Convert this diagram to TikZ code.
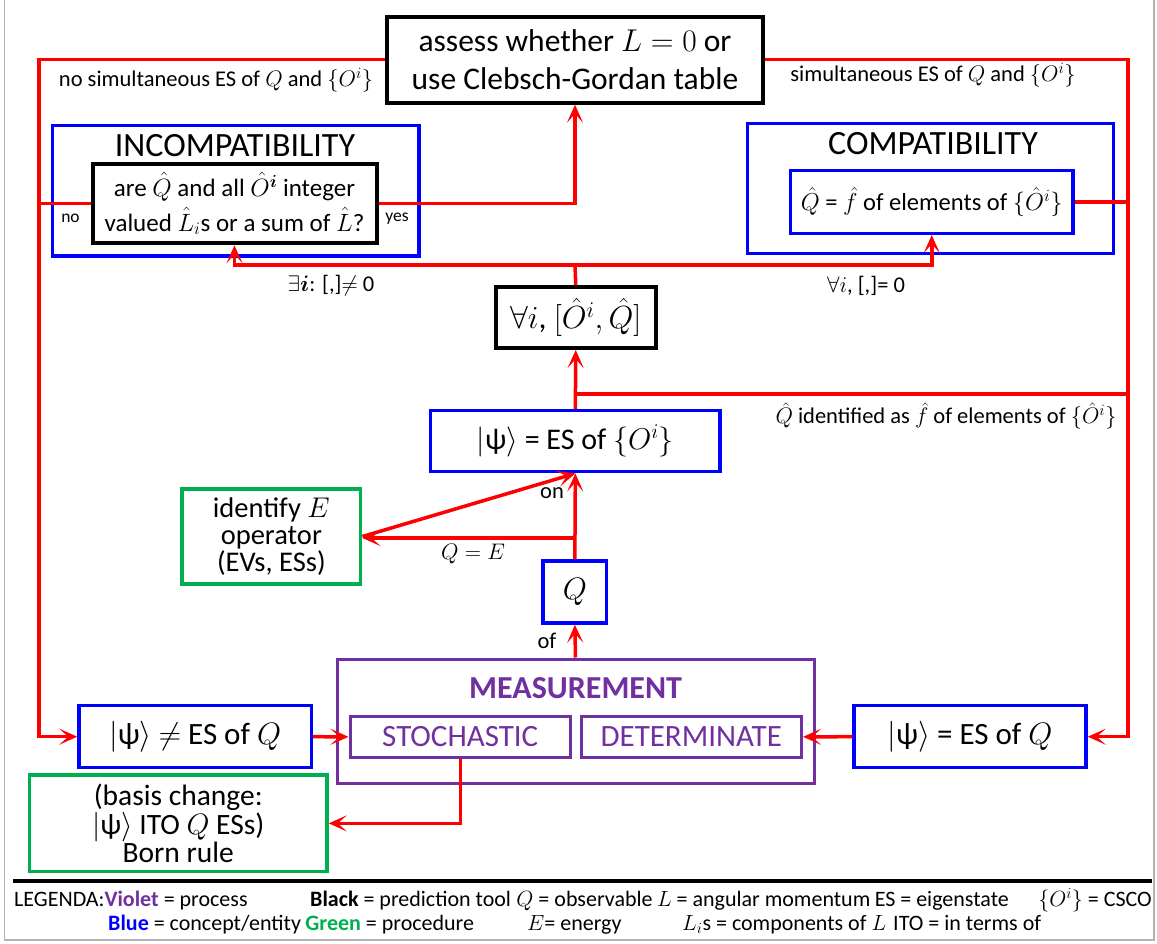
\RequirePackage{fix-cm}
\documentclass[tikz,border=0pt]{standalone}
\usepackage{amsmath}
\usepackage{fontspec}
\setmainfont{Carlito}
\usetikzlibrary{arrows.meta}
\definecolor{rd}{RGB}{255,0,0}
\definecolor{bl}{RGB}{0,0,255}
\definecolor{gr}{RGB}{0,176,80}
\definecolor{vi}{RGB}{112,48,160}
\newcommand{\fsz}[2]{\fontsize{#1}{#2}\selectfont}
\begin{document}
\begin{tikzpicture}[x=1pt,y=-1pt,
  box/.style={draw,line width=3.5pt,inner sep=0pt,align=center,text=black},
  blackbox/.style={box,draw=black,line width=4pt},
  bluebox/.style={box,draw=bl},
  greenbox/.style={box,draw=gr},
  violetbox/.style={box,draw=vi,line width=3pt,text=vi},
  conn/.style={draw=rd,line width=3.5pt},
  arr/.style={conn,-{Stealth[length=18pt,width=16pt,inset=9pt]}},
  lbl/.style={inner sep=0pt,font=\fsz{22.5}{26}},
  leg/.style={inner sep=0pt,anchor=base west,font=\fsz{22}{25}}]
\useasboundingbox (0,0) rectangle (1157,944);
\draw[gray!60,line width=1.5pt] (4.5,-5) -- (4.5,940) -- (1154,940) -- (1154,-5);

% nodes
\node[blackbox,minimum width=376pt,minimum height=86pt,font=\fsz{31.5}{38}] (top) at (575,59.7) {assess whether $L=0$ or\\use Clebsch-Gordan table};

\node[bluebox,minimum width=366.5pt,minimum height=130.7pt] (inc) at (235.75,190.65) {};
\node[inner sep=0pt,font=\fsz{34}{38}] (incT) at (235,145.7) {INCOMPATIBILITY};
\node[blackbox,minimum width=284pt,minimum height=79.3pt,font=\fsz{25}{35}] (incIn) at (234.5,203.65) {are $\hat{Q}$ and all $\hat{O}^{\boldsymbol{i}}$ integer\\valued $\hat{L}_i$s or a sum of $\hat{L}$?};

\node[bluebox,minimum width=366pt,minimum height=130pt] (com) at (930.6,188.3) {};
\node[inner sep=0pt,font=\fsz{34}{38}] (comT) at (933,143.3) {COMPATIBILITY};
\node[bluebox,minimum width=282.5pt,minimum height=62.6pt,font=\fsz{24.5}{30}] (comIn) at (931.75,202) {$\hat{Q}$ = $\hat{f}$ of elements of $\{\hat{O}^i\}$};

\node[blackbox,minimum width=160.5pt,minimum height=61pt,font=\fsz{32}{36}] (fa) at (575.75,317.5) {$\forall i$, $[\hat{O}^i,\hat{Q}]$};

\node[bluebox,minimum width=289.3pt,minimum height=61pt,font=\fsz{30}{34}] (psiO) at (575.35,441.2) {$|$ψ$\rangle$ = ES of $\{O^i\}$};

\node[greenbox,minimum width=178.7pt,minimum height=95pt,font=\fsz{28.5}{27}] (idE) at (271.35,536.5) {identify $E$\\operator\\(EVs, ESs)};

\node[bluebox,minimum width=63.7pt,minimum height=62pt,font=\fsz{31}{34}] (Q) at (574.85,592) {$Q$};

\node[violetbox,minimum width=477pt,minimum height=124pt] (meas) at (575.5,721) {};
\node[inner sep=0pt,text=vi,font=\fsz{32}{36}\bfseries] (measT) at (575.6,688) {MEASUREMENT};
\node[violetbox,minimum width=220.5pt,minimum height=40.3pt,font=\fsz{31}{34}] (sto) at (460.25,736.85) {STOCHASTIC};
\node[violetbox,minimum width=220.5pt,minimum height=40.3pt,font=\fsz{31}{34}] (det) at (691.25,736.85) {DETERMINATE};

\node[bluebox,minimum width=232.4pt,minimum height=62pt,font=\fsz{31}{34}] (psiN) at (195.2,736.7) {$|$ψ$\rangle$ $\neq$ ES of $Q$};
\node[bluebox,minimum width=232pt,minimum height=62pt,font=\fsz{31}{34}] (psiE) at (970,736.7) {$|$ψ$\rangle$ = ES of $Q$};

\node[greenbox,minimum width=297.5pt,minimum height=96.7pt,font=\fsz{29.5}{28.5}] (born) at (178.25,823.35) {(basis change:\\$|$ψ$\rangle$ ITO $Q$ ESs)\\Born rule};

% coordinates
\coordinate (L2) at (39,736.7);
\coordinate (R2) at (1128,736.7);
\coordinate (J1) at (575,265);
\coordinate (J2) at (575,394);
\coordinate (J3) at (575,538);
\coordinate (S1) at (460.25,823.35);

% connectors
\draw[arr] (top.west) -| (L2) -- (psiN.west);
\draw[conn] (incIn.west) -- (incIn.west -| L2);
\draw[arr] (incIn.east) -| (top.south);
\draw[arr] (top.east) -| (R2) -- (psiE.east);
\draw[conn] (comIn.east) -- (comIn.east -| R2);
\draw[conn] (fa.north) -- (J1);
\draw[arr] (J1) -| (incIn.south);
\draw[arr] (J1) -| (comIn.south);
\draw[arr] (psiO.north) -- (fa.south);
\draw[conn] (J2) -- (J2 -| R2);
\draw[arr] (Q.north) -- (psiO.south);
\draw[arr] (J3) -- (J3 -| idE.east);
\draw[arr] (idE.east) -- (psiO.south);
\draw[arr] (meas.north) -- (Q.south);
\draw[arr] (psiN.east) -- (sto.west);
\draw[arr] (psiE.west) -- (det.east);
\draw[arr] (sto.south) -- (S1) -- (born.east);

% labels
\node[lbl] (l1) at (216,80) {no simultaneous ES of $Q$ and $\{O^i\}$};
\node[lbl] (l2) at (933,75) {simultaneous ES of $Q$ and $\{O^i\}$};
\node[lbl,font=\fsz{17.5}{20}] (lno) at (70.5,218.3) {no};
\node[lbl,font=\fsz{17.5}{20}] (lyes) at (397,218.3) {yes};
\node[lbl] (l3) at (331,286) {$\exists\boldsymbol{i}$: [,]$\neq$ 0};
\node[lbl] (l4) at (866,286) {$\forall i$, [,]= 0};
\node[lbl] (l5) at (946,416) {$\hat{Q}$ identified as $\hat{f}$ of elements of $\{\hat{O}^i\}$};
\node[lbl] (lon) at (552,493) {on};
\node[lbl] (lqe) at (473,554) {$Q=E$};
\node[lbl] (lof) at (547,641) {of};

% legend
\draw[black,line width=4pt] (13,881) -- (1152,881);
\node[leg] (g1) at (14,906) {LEGENDA:\textcolor{vi}{\textbf{Violet}} = process};
\node[leg] (g2) at (310,906) {\textbf{Black} = prediction tool};
\node[leg] (g3) at ([xshift=5pt]g2.base east) {$Q$ = observable};
\node[leg] (g4) at ([xshift=4pt]g3.base east) {$L$ = angular momentum};
\node[leg] (g5) at ([xshift=4pt]g4.base east) {ES = eigenstate};
\node[leg,anchor=base east] (g6) at (1152,906) {$\{O^i\}$ = CSCO};
\node[leg] (g7) at (108,930) {\textcolor{bl}{\textbf{Blue}} = concept/entity};
\node[leg] (g8) at ([xshift=4pt]g7.base east) {\textcolor{gr}{\textbf{Green}} = procedure};
\node[leg] (g9) at (527,930) {$E$= energy};
\node[leg] (g10) at (682,930) {$L_i$s = components of $L$};
\node[leg] (g11) at (893,930) {ITO = in terms of};
\end{tikzpicture}
\end{document}
